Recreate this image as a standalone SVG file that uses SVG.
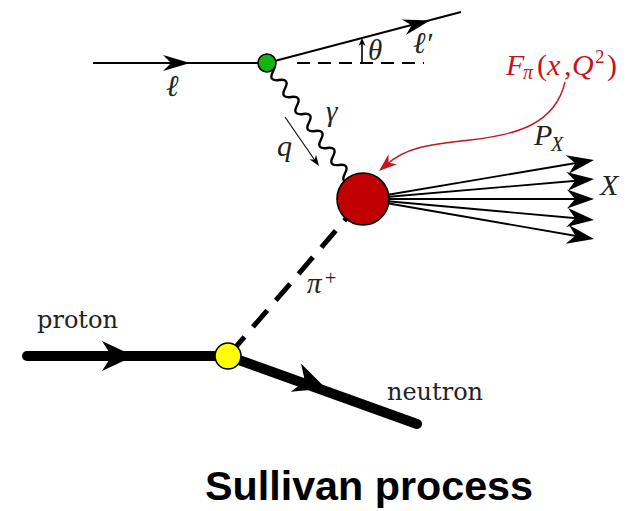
<svg xmlns="http://www.w3.org/2000/svg" xmlns:xlink="http://www.w3.org/1999/xlink" width="633" height="511" viewBox="0 0 633 511">
<style>
.ln{stroke:#000;fill:none}
.math{font-family:"Liberation Serif","Times New Roman",serif;font-style:italic;fill:#222}
.up{font-style:normal}
.rd{fill:#c8141c}
.rm{font-family:"DejaVu Serif","Liberation Serif",serif;fill:#222}
.node{stroke:#000;stroke-width:1.6}
.ah{fill:#000}
</style>
<defs>
<path id="stealth" d="M0,0 L-1,-1 L-0.7,0 L-1,1 Z"/>
</defs>
<g id="connectors">
  <line class="ln" x1="93" y1="63" x2="267" y2="63" stroke-width="2"/>
  <use xlink:href="#stealth" class="ah" transform="translate(190,63) scale(27,8)"/>
  <line class="ln" x1="267" y1="63" x2="461" y2="12" stroke-width="2"/>
  <use xlink:href="#stealth" class="ah" transform="translate(430,20.5) rotate(-14.7) scale(27,8)"/>
  <line class="ln" x1="297" y1="63" x2="424" y2="63" stroke-width="2" stroke-dasharray="13 8"/>
  <line class="ln" x1="362" y1="63" x2="362" y2="43" stroke-width="1.6"/>
  <use xlink:href="#stealth" class="ah" transform="translate(362,38) rotate(-90) scale(8,3.5)"/>
  <path class="ln" stroke-width="2.4" transform="translate(267,63) rotate(54.8)" d="M0,0 q5.2,-10 10.4,0 t10.4,0 t10.4,0 t10.4,0 t10.4,0 t10.4,0 t10.4,0 t10.4,0 t10.4,0 t10.4,0 t10.4,0 t10.4,0 t10.4,0 t10.4,0 t10.4,0 t10.4,0"/>
  <line class="ln" x1="285" y1="117" x2="316" y2="162" stroke-width="1.1"/>
  <use xlink:href="#stealth" class="ah" transform="translate(319,166) rotate(55.5) scale(11,4)"/>
  <line class="ln" x1="363" y1="199" x2="228" y2="356" stroke-width="5" stroke-dasharray="22 13" stroke-dashoffset="28.2"/>
  <line class="ln" x1="363" y1="199" x2="585" y2="161.5" stroke-width="1.8"/>
  <line class="ln" x1="363" y1="199" x2="585" y2="180" stroke-width="1.8"/>
  <line class="ln" x1="363" y1="199" x2="585" y2="199" stroke-width="1.8"/>
  <line class="ln" x1="363" y1="199" x2="585" y2="219" stroke-width="1.8"/>
  <line class="ln" x1="363" y1="199" x2="585" y2="237.5" stroke-width="1.8"/>
  <use xlink:href="#stealth" class="ah" transform="translate(594,160) rotate(-9.6) scale(27,9.5)"/>
  <use xlink:href="#stealth" class="ah" transform="translate(594,179) rotate(-5) scale(27,9.5)"/>
  <use xlink:href="#stealth" class="ah" transform="translate(594,199) scale(27,9.5)"/>
  <use xlink:href="#stealth" class="ah" transform="translate(594,220) rotate(5.2) scale(27,9.5)"/>
  <use xlink:href="#stealth" class="ah" transform="translate(594,239) rotate(9.9) scale(27,9.5)"/>
  <path d="M565,82 C555,125 515,135 470,140 C425,145 405,148 386,165" fill="none" stroke="#c8141c" stroke-width="1.4"/>
  <use xlink:href="#stealth" class="rd" transform="translate(379,171) rotate(139.4) scale(18,6.5)"/>
  <line class="ln" x1="27" y1="356" x2="228" y2="356" stroke-width="10" stroke-linecap="round"/>
  <use xlink:href="#stealth" class="ah" transform="translate(134,356) scale(32,15)"/>
  <line class="ln" x1="228" y1="356" x2="417" y2="424" stroke-width="10" stroke-linecap="round"/>
  <use xlink:href="#stealth" class="ah" transform="translate(326,388.5) rotate(19.8) scale(32,15)"/>
</g>
<g id="vertex-lepton">
  <circle class="node" cx="267" cy="63" r="9" fill="#12b312"/>
</g>
<g id="vertex-pion">
  <circle class="node" cx="363" cy="199" r="26" fill="#c00000"/>
</g>
<g id="vertex-nucleon">
  <circle class="node" cx="228" cy="356" r="13" fill="#ffff00"/>
</g>
<g id="labels">
  <text class="math" x="166" y="96" font-size="30">ℓ</text>
  <text class="math" x="413" y="53" font-size="30">ℓ′</text>
  <text class="math" x="368" y="60" font-size="29">θ</text>
  <text class="math" x="326" y="121" font-size="29">γ</text>
  <text class="math" x="277" y="156" font-size="30">q</text>
  <text class="math" x="307" y="293" font-size="29">π</text>
  <text class="math up" x="325" y="285" font-size="20">+</text>
  <text class="math" x="534" y="145" font-size="30">P</text>
  <text class="math" x="551" y="151" font-size="20">X</text>
  <text class="math" x="600" y="195" font-size="30">X</text>
  <text class="math rd" x="506" y="75" font-size="30">F</text>
  <text class="math rd" x="523" y="79" font-size="20">π</text>
  <text class="math up rd" x="537" y="75" font-size="30">(</text>
  <text class="math rd" x="547" y="75" font-size="30">x</text>
  <text class="math up rd" x="564" y="75" font-size="30">,</text>
  <text class="math rd" x="572" y="75" font-size="30">Q</text>
  <text class="math up rd" x="595" y="63" font-size="19">2</text>
  <text class="math up rd" x="607" y="75" font-size="30">)</text>
  <text class="rm" x="37" y="328" font-size="24" textLength="81" lengthAdjust="spacingAndGlyphs">proton</text>
  <text class="rm" x="387" y="400" font-size="24" textLength="96" lengthAdjust="spacingAndGlyphs">neutron</text>
  <text x="205" y="500" font-family="Liberation Sans, Arial, sans-serif" font-weight="bold" font-size="41" fill="#000" textLength="328" lengthAdjust="spacingAndGlyphs">Sullivan process</text>
</g>
</svg>
